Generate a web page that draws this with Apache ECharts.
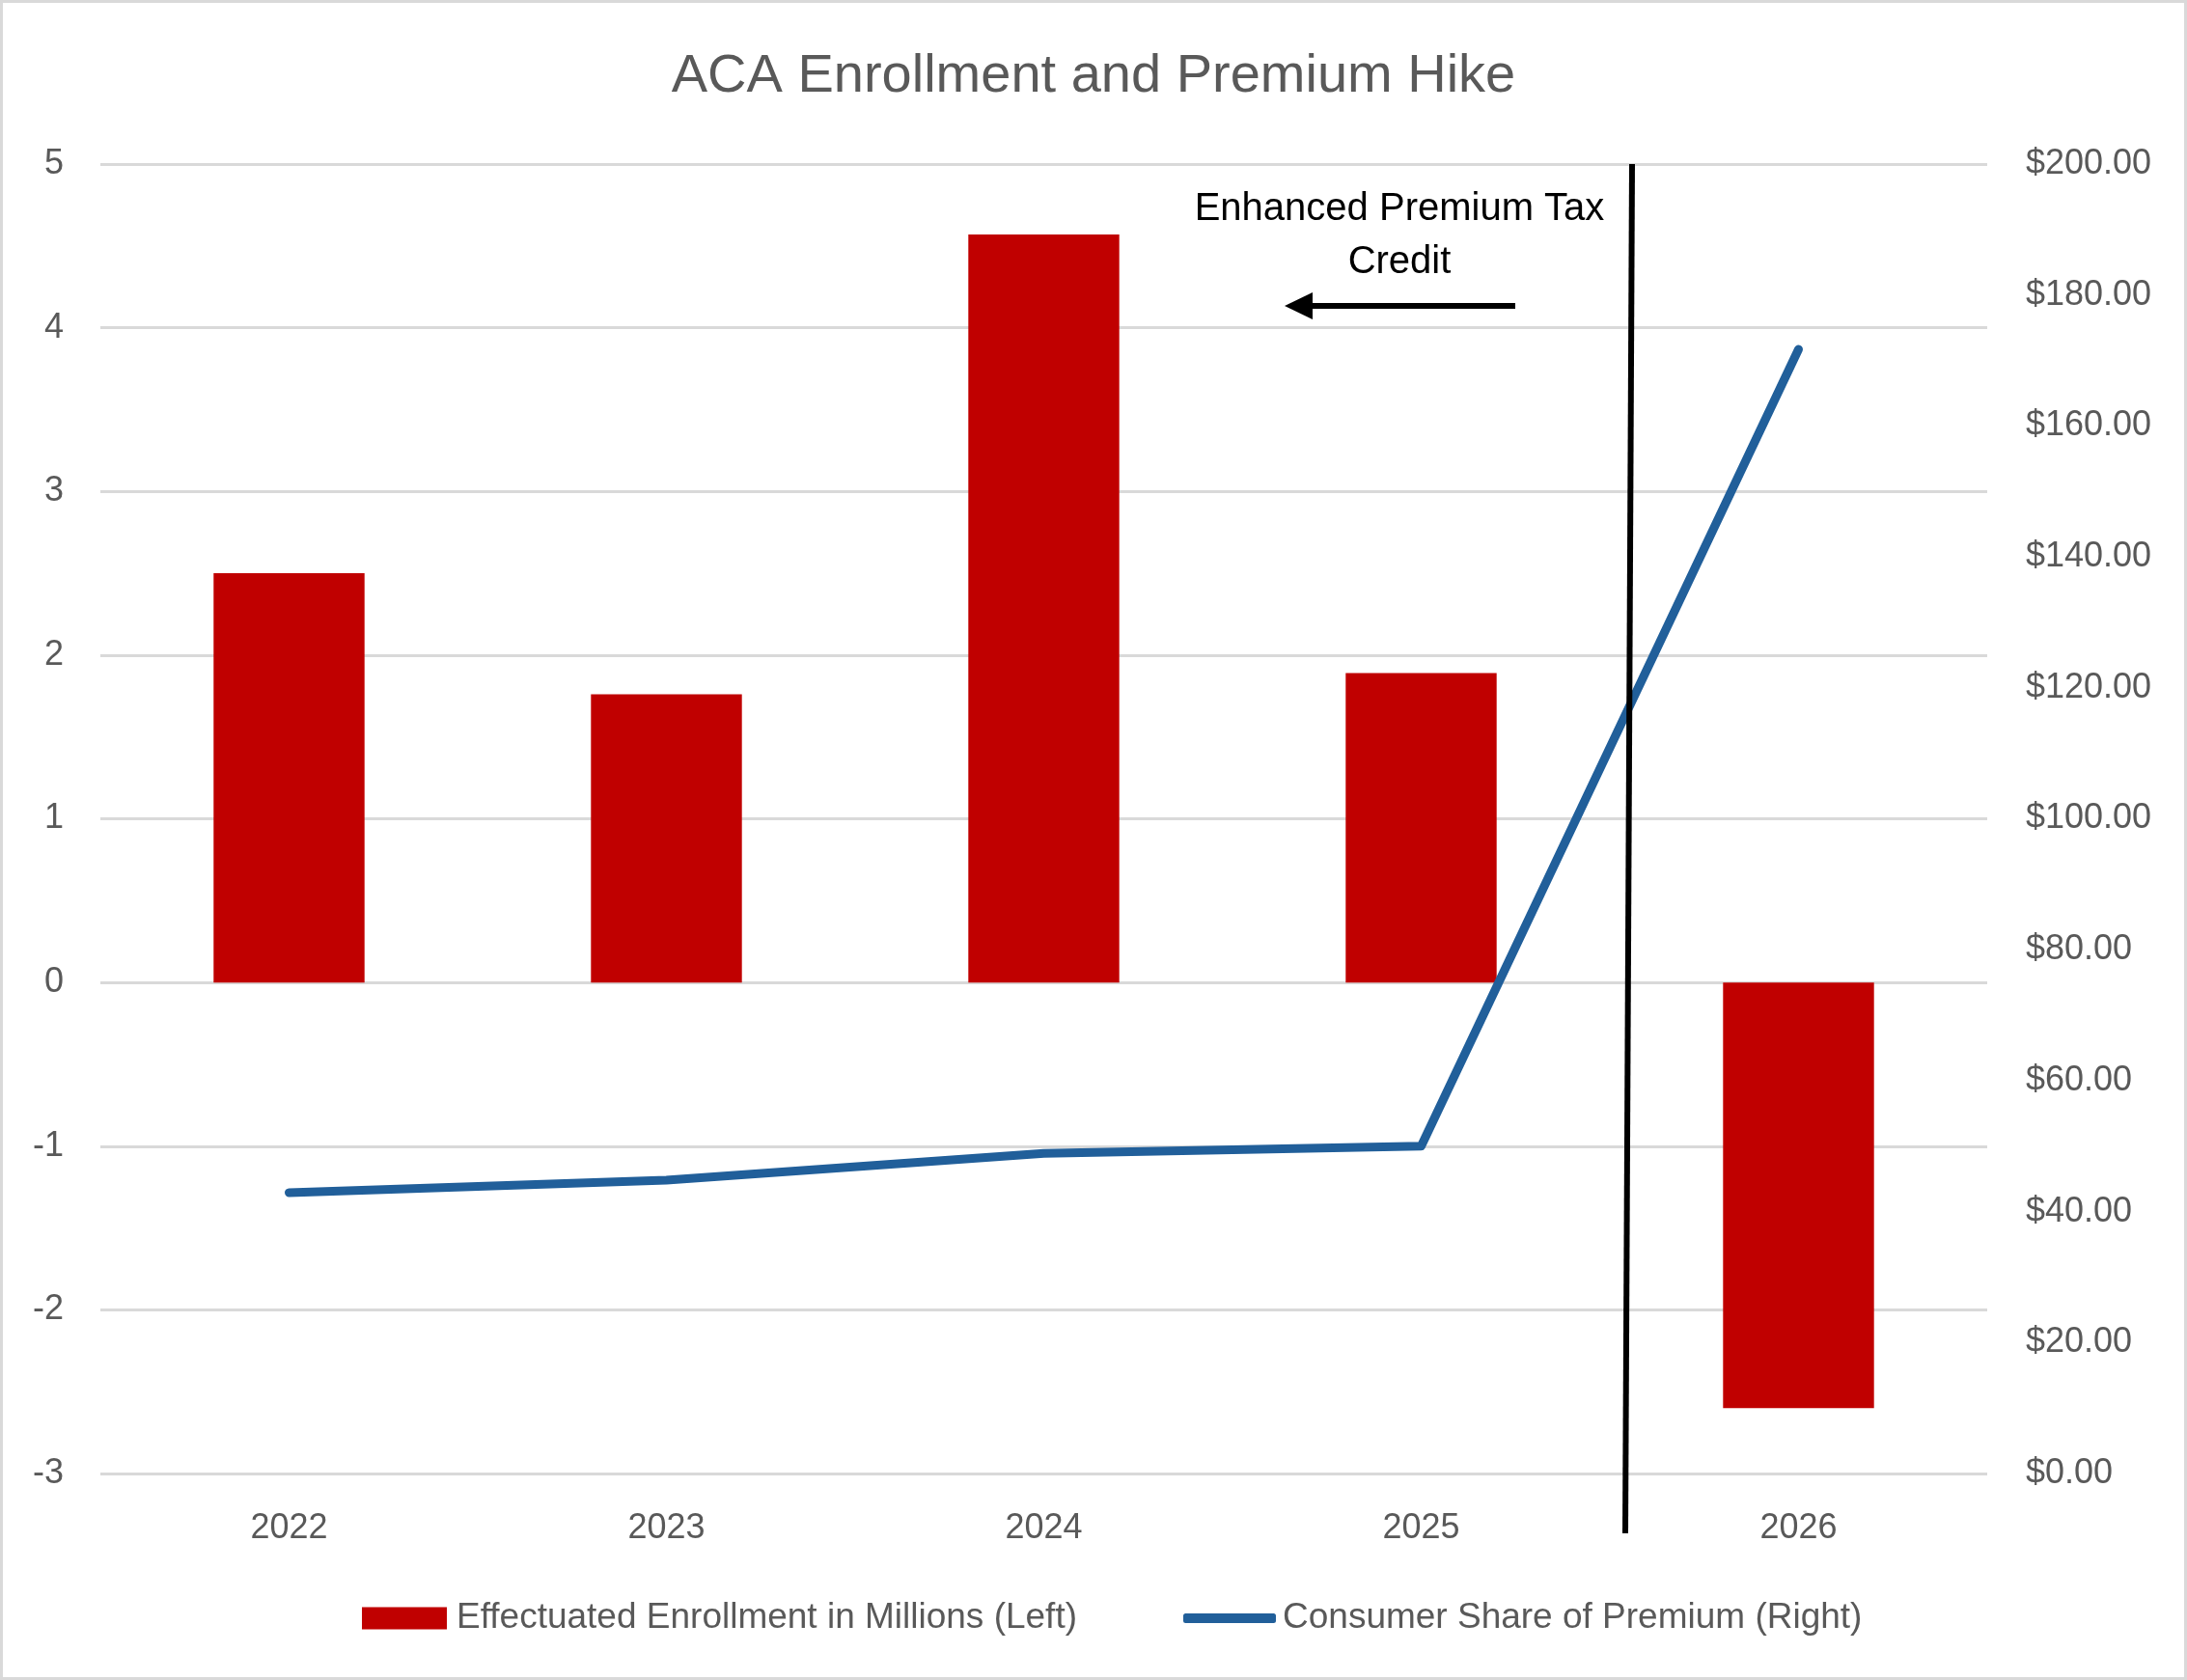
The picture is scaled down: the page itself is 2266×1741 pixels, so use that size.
<!DOCTYPE html>
<html>
<head>
<meta charset="utf-8">
<script src="https://cdn.jsdelivr.net/npm/echarts@6/dist/echarts.min.js"></script>
<style>
  html, body { margin: 0; padding: 0; background: #fff; }
  #chart { width: 2266px; height: 1741px; }
</style>
</head>
<body>
<div id="chart"></div>
<script>
// data
var years = ["2022", "2023", "2024", "2025", "2026"];
var enrollment = [2.5, 1.76, 4.57, 1.89, -2.6];        // millions, left axis
var consumerShare = [42.9, 44.8, 48.9, 50.0, 171.7];   // dollars, right axis
var leftTicks = { min: -3, max: 5, interval: 1 };
var rightTicks = { min: 0, max: 200, interval: 20 };

var FONT = "Liberation Sans, Arial, sans-serif";
var GRAY = "#595959";

var chart = echarts.init(document.getElementById("chart"));

var option = {
  animation: false,
  backgroundColor: "#fff",
  textStyle: { fontFamily: FONT },
  title: {
    text: "ACA Enrollment and Premium Hike",
    left: "center",
    top: 47,
    textStyle: { fontFamily: FONT, fontSize: 56, fontWeight: "normal", color: GRAY },
  },
  grid: { left: 104, right: 207, top: 170, bottom: 214, containLabel: false },
  legend: [
    {
      data: [{ name: "Effectuated Enrollment in Millions (Left)", icon: "rect" }],
      left: 370,
      top: 1651,
      itemWidth: 88,
      itemHeight: 23,
      textStyle: { fontFamily: FONT, fontSize: 37, color: GRAY, lineHeight: 42, padding: [0, 0, 0, 5] },
    },
    {
      data: [{ name: "Consumer Share of Premium (Right)", icon: "roundRect" }],
      left: 1221,
      top: 1651,
      itemWidth: 96,
      itemHeight: 10,
      textStyle: { fontFamily: FONT, fontSize: 37, color: GRAY, lineHeight: 42, padding: [0, 0, 0, 2] },
    },
  ],
  xAxis: {
    type: "category",
    data: years,
    boundaryGap: true,
    axisLine: { show: false },
    axisTick: { show: false },
    axisLabel: { fontFamily: FONT, fontSize: 36, color: GRAY, margin: 39 },
  },
  yAxis: [
    {
      type: "value",
      min: leftTicks.min,
      max: leftTicks.max,
      interval: leftTicks.interval,
      axisLine: { show: false },
      axisTick: { show: false },
      axisLabel: { fontFamily: FONT, fontSize: 36, color: GRAY, margin: 38, padding: [8, 0, 0, 0] },
      splitLine: { lineStyle: { color: "#d9d9d9", width: 3 } },
    },
    {
      type: "value",
      position: "right",
      min: rightTicks.min,
      max: rightTicks.max,
      interval: rightTicks.interval,
      axisLine: { show: false },
      axisTick: { show: false },
      splitLine: { show: false },
      axisLabel: {
        fontFamily: FONT,
        fontSize: 36,
        color: GRAY,
        margin: 40,
        padding: [8, 0, 0, 0],
        formatter: function (v) { return "$" + v.toFixed(2); },
      },
    },
  ],
  series: [
    {
      name: "Effectuated Enrollment in Millions (Left)",
      type: "bar",
      yAxisIndex: 0,
      data: enrollment,
      barWidth: "40%",
      itemStyle: { color: "#C00000" },
    },
    {
      name: "Consumer Share of Premium (Right)",
      type: "line",
      yAxisIndex: 1,
      data: consumerShare,
      symbol: "none",
      z: 3,
      itemStyle: { color: "#215F9A" },
      lineStyle: { color: "#215F9A", width: 9, cap: "round", join: "round" },
    },
  ],
  graphic: [
    // outer chart border
    {
      type: "rect",
      shape: { x: 1.5, y: 1.5, width: 2263, height: 1738 },
      style: { fill: null, stroke: "#d9d9d9", lineWidth: 3 },
      silent: true,
    },
    // annotation: vertical divider
    {
      type: "line",
      shape: { x1: 1691, y1: 170, x2: 1684, y2: 1589 },
      style: { stroke: "#000", lineWidth: 6 },
      z: 10,
    },
    // annotation: arrow
    {
      type: "line",
      shape: { x1: 1570, y1: 317, x2: 1352, y2: 317 },
      style: { stroke: "#000", lineWidth: 6 },
      z: 10,
    },
    {
      type: "polygon",
      shape: { points: [[1331, 317], [1360, 303], [1360, 331]] },
      style: { fill: "#000" },
      z: 10,
    },
    {
      type: "text",
      x: 1450,
      y: 189,
      style: {
        text: "Enhanced Premium Tax\nCredit",
        fontFamily: FONT,
        fontSize: 40,
        lineHeight: 55,
        fill: "#000",
        textAlign: "center",
        textVerticalAlign: "top",
      },
      z: 10,
    },
  ],
};

chart.setOption(option);
</script>
</body>
</html>
